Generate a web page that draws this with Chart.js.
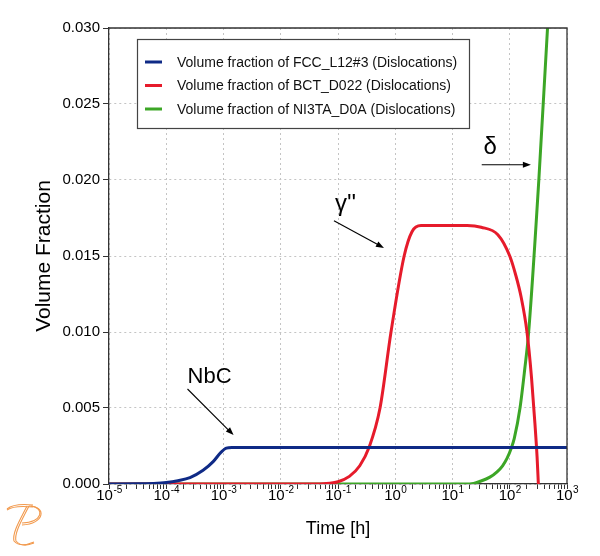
<!DOCTYPE html>
<html>
<head>
    <title>Volume Fraction vs Time</title>
    <meta charset="UTF-8">
    <style>
        body {
            margin: 0;
            background: #ffffff;
            font-family: "Liberation Sans", Arial, sans-serif;
        }
        #wrap {
            width: 600px;
            height: 556px;
            position: relative;
        }
    </style>
</head>
<body>
    <div id="wrap">
        <canvas id="fractionChart"></canvas>
    </div>

    <script src="https://cdn.jsdelivr.net/npm/chart.js"></script>

    <script>
        // Series: time in hours, volume fraction
        const fccTime = [1e-5, 3.2e-5, 6e-5, 1e-4, 1.6e-4, 2.6e-4, 4.4e-4, 6.6e-4, 9.1e-4, 1.12e-3, 1.4e-3, 1e-2, 1e3];
        const fccFrac = [0, 0.00001, 0.00004, 0.0001, 0.00022, 0.00042, 0.0009, 0.00147, 0.0021, 0.00236, 0.0024, 0.0024, 0.0024];

        const bctTime = [1e-5, 0.04, 0.056, 0.1, 0.158, 0.24, 0.348, 0.542, 0.843, 1.43, 1.96, 2.82, 5, 10, 18, 31.6, 62, 100, 126, 158, 200, 240, 275, 300, 316];
        const bctFrac = [0, 0, 0.00002, 0.00015, 0.0005, 0.0012, 0.0024, 0.005, 0.010, 0.015, 0.0166, 0.0170, 0.0170, 0.0170, 0.0170, 0.01689, 0.0164, 0.0150, 0.0138, 0.0123, 0.0100, 0.0070, 0.0040, 0.0018, 0];

        const ni3taTime = [1e-5, 20, 31.6, 45, 60, 75, 90, 105, 120, 151, 182, 214, 322, 457, 530];
        const ni3taFrac = [0, 0, 0.0002, 0.00045, 0.0008, 0.0012, 0.0017, 0.0023, 0.0030, 0.005, 0.0075, 0.010, 0.020, 0.030, 0.034];

        const seriesLabels = [
            'Volume fraction of FCC_L12#3 (Dislocations)',
            'Volume fraction of BCT_D022 (Dislocations)',
            'Volume fraction of NI3TA_D0A (Dislocations)'
        ];
        const seriesColors = ['#0f2a86', '#e61b2b', '#3ca626'];

        // x tick labels are powers of ten
        const xTickExponents = [-5, -4, -3, -2, -1, 0, 1, 2, 3];

        // annotations, in data coordinates (time, fraction)
        const noteTexts = ['NbC', "\u03b3''", '\u03b4'];
        const noteAt = [[2.36e-4, 0.00665], [0.0883, 0.01796], [34.8, 0.02171]];
        const arrowFrom = [[2.35e-4, 0.00625], [0.085, 0.01732], [32.4, 0.0210]];
        const arrowTo = [[1.5e-3, 0.00322], [0.635, 0.01553], [234, 0.0210]];

        const FONT = '"Liberation Sans", Arial, sans-serif';

        function toPoints(xs, ys) {
            return xs.map((x, i) => ({ x: x, y: ys[i] }));
        }

        // frame, legend, superscript tick labels, annotations, logo
        const decorPlugin = {
            id: 'decor',
            afterDatasetsDraw(chart) {
                const ctx = chart.ctx;
                const area = chart.chartArea;
                const xs = chart.scales.x;
                const ys = chart.scales.y;

                ctx.save();
                // top and right border
                ctx.strokeStyle = '#333333';
                ctx.lineWidth = 1.3;
                ctx.beginPath();
                ctx.moveTo(area.left, area.top);
                ctx.lineTo(area.right, area.top);
                ctx.lineTo(area.right, area.bottom);
                ctx.stroke();

                // legend box
                const lx = area.left + 28, ly = area.top + 11;
                ctx.fillStyle = '#ffffff';
                ctx.fillRect(lx, ly, 332, 89);
                ctx.strokeStyle = '#444444';
                ctx.lineWidth = 1.2;
                ctx.strokeRect(lx + 0.5, ly + 0.5, 332, 89);
                ctx.font = '14px ' + FONT;
                ctx.textBaseline = 'middle';
                ctx.textAlign = 'left';
                chart.data.datasets.forEach((ds, i) => {
                    const rowY = ly + 23 + i * 23.5;
                    ctx.strokeStyle = ds.borderColor;
                    ctx.lineWidth = 3;
                    ctx.beginPath();
                    ctx.moveTo(lx + 8, rowY);
                    ctx.lineTo(lx + 25, rowY);
                    ctx.stroke();
                    ctx.fillStyle = '#111111';
                    ctx.fillText(ds.label, lx + 40, rowY + 1);
                });

                // x tick labels 10^n
                ctx.fillStyle = '#000000';
                ctx.textBaseline = 'alphabetic';
                xTickExponents.forEach(e => {
                    const px = xs.getPixelForValue(Math.pow(10, e));
                    const base = '10';
                    const sup = String(e);
                    ctx.font = '15px ' + FONT;
                    const wb = ctx.measureText(base).width;
                    ctx.font = '10px ' + FONT;
                    const wsup = ctx.measureText(sup).width;
                    const start = px - (wb + wsup) / 2;
                    ctx.font = '15px ' + FONT;
                    ctx.textAlign = 'left';
                    ctx.fillText(base, start, area.bottom + 16);
                    ctx.font = '10px ' + FONT;
                    ctx.fillText(sup, start + wb + 0.5, area.bottom + 9);
                });

                // annotations with arrows
                ctx.fillStyle = '#000000';
                ctx.strokeStyle = '#000000';
                noteTexts.forEach((t, i) => {
                    ctx.font = (i === 0 ? '22px ' : '24px ') + FONT;
                    ctx.textAlign = 'left';
                    ctx.fillText(t, xs.getPixelForValue(noteAt[i][0]), ys.getPixelForValue(noteAt[i][1]));

                    const x0 = xs.getPixelForValue(arrowFrom[i][0]);
                    const y0 = ys.getPixelForValue(arrowFrom[i][1]);
                    const x1 = xs.getPixelForValue(arrowTo[i][0]);
                    const y1 = ys.getPixelForValue(arrowTo[i][1]);
                    const ang = Math.atan2(y1 - y0, x1 - x0);
                    ctx.lineWidth = 1.1;
                    ctx.beginPath();
                    ctx.moveTo(x0, y0);
                    ctx.lineTo(x1 - 5 * Math.cos(ang), y1 - 5 * Math.sin(ang));
                    ctx.stroke();
                    ctx.beginPath();
                    ctx.moveTo(x1, y1);
                    ctx.lineTo(x1 - 8 * Math.cos(ang) + 3 * Math.sin(ang), y1 - 8 * Math.sin(ang) - 3 * Math.cos(ang));
                    ctx.lineTo(x1 - 8 * Math.cos(ang) - 3 * Math.sin(ang), y1 - 8 * Math.sin(ang) + 3 * Math.cos(ang));
                    ctx.closePath();
                    ctx.fill();
                });

                // small orange logo, bottom left
                ctx.strokeStyle = '#f29a4e';
                ctx.lineWidth = 1.1;
                [0, 2].forEach(off => {
                    ctx.beginPath();
                    ctx.moveTo(7, 509 + off * 0.5);
                    ctx.quadraticCurveTo(14, 503 + off, 33, 505 + off);
                    ctx.stroke();
                    ctx.beginPath();
                    ctx.moveTo(27 + off, 506);
                    ctx.bezierCurveTo(20 + off, 520, 12 + off, 533, 14 + off, 541);
                    ctx.quadraticCurveTo(20 + off, 548, 34, 542 + off * 0.5);
                    ctx.stroke();
                    ctx.beginPath();
                    ctx.moveTo(29 + off, 506);
                    ctx.bezierCurveTo(47 - off, 506 + off, 45 - off, 524 - off, 22, 525 - off);
                    ctx.stroke();
                });
                ctx.restore();
            }
        };

        function xTickList() {
            const ticks = [];
            for (let e = -5; e < 3; e++) {
                for (let m = 1; m < 10; m++) {
                    ticks.push({ value: m * Math.pow(10, e), major: m === 1 });
                }
            }
            ticks.push({ value: 1000, major: true });
            return ticks;
        }

        const chartCtx = document.getElementById('fractionChart').getContext('2d');
        const fractionChart = new Chart(chartCtx, {
            type: 'line',
            data: {
                datasets: [
                    { label: seriesLabels[0], data: toPoints(fccTime, fccFrac), borderColor: seriesColors[0] },
                    { label: seriesLabels[1], data: toPoints(bctTime, bctFrac), borderColor: seriesColors[1] },
                    { label: seriesLabels[2], data: toPoints(ni3taTime, ni3taFrac), borderColor: seriesColors[2] }
                ]
            },
            options: {
                responsive: true,
                maintainAspectRatio: false,
                animation: false,
                layout: { padding: { left: 0, right: 33, top: 28, bottom: 0 } },
                elements: {
                    point: { radius: 0 },
                    line: { borderWidth: 3, cubicInterpolationMode: 'monotone', fill: false }
                },
                plugins: {
                    legend: { display: false },
                    tooltip: { enabled: false }
                },
                scales: {
                    x: {
                        type: 'logarithmic',
                        min: 1e-5,
                        max: 1e3,
                        afterBuildTicks: scale => { scale.ticks = xTickList(); },
                        afterFit: scale => { scale.height = 72; },
                        ticks: { display: false, autoSkip: false },
                        grid: {
                            color: c => (c.tick && c.tick.major ? '#c4c4c4' : 'rgba(0,0,0,0)'),
                            tickColor: '#333333',
                            tickLength: 5,
                            lineWidth: 1
                        },
                        border: { color: '#333333', width: 1.3, dash: [2, 3] },
                        title: {
                            display: true,
                            text: 'Time [h]',
                            color: '#000000',
                            font: { family: FONT, size: 18 },
                            padding: { top: 0, bottom: 16 }
                        }
                    },
                    y: {
                        min: 0,
                        max: 0.03,
                        afterFit: scale => { scale.width = 109; },
                        ticks: {
                            stepSize: 0.005,
                            color: '#000000',
                            font: { family: FONT, size: 15 },
                            padding: 3,
                            callback: v => v.toFixed(3)
                        },
                        grid: {
                            color: '#c4c4c4',
                            tickColor: '#333333',
                            tickLength: 6,
                            lineWidth: 1
                        },
                        border: { color: '#333333', width: 1.3, dash: [2, 3] },
                        title: {
                            display: true,
                            text: 'Volume Fraction',
                            color: '#000000',
                            font: { family: FONT, size: 21 },
                            padding: { top: 32, bottom: 0 }
                        }
                    }
                }
            },
            plugins: [decorPlugin]
        });
    </script>
</body>
</html>
